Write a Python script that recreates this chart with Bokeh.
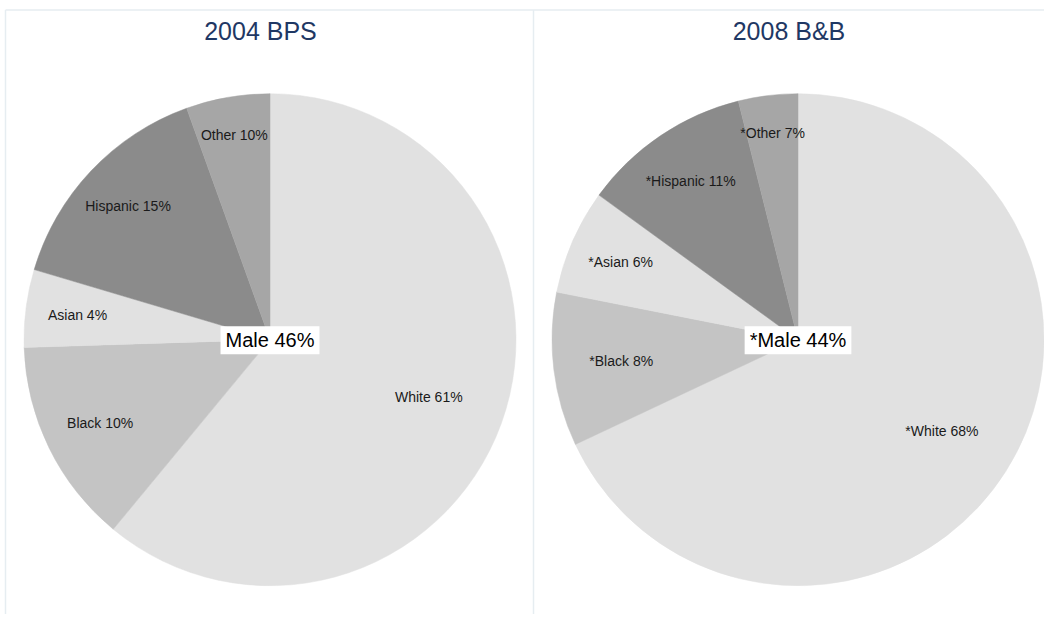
import math
from bokeh.plotting import figure
from bokeh.models import Range1d, Label
from bokeh.core.properties import value
from bokeh.embed import file_html
from bokeh.resources import INLINE

# ---- data (clockwise from 12 o'clock) ----
categories = ["White", "Black", "Asian", "Hispanic", "Other"]
bps2004_values = [61.0, 13.5, 5.1, 14.9, 5.5]
bb2008_values = [68.0, 10.1, 6.9, 11.1, 3.9]
bps2004_labels = ["White 61%", "Black 10%", "Asian 4%", "Hispanic 15%", "Other 10%"]
bb2008_labels = ["*White 68%", "*Black 8%", "*Asian 6%", "*Hispanic 11%", "*Other 7%"]
titles = ["2004 BPS", "2008 B&B"]
male_labels = ["Male 46%", "*Male 44%"]

# ---- styles / layout ----
colors = ["#e1e1e1", "#c4c4c4", "#e1e1e1", "#8b8b8b", "#a6a6a6"]
label_frac_left = [0.686, 0.769, 0.789, 0.794, 0.843]
label_frac_right = [0.693, 0.724, 0.787, 0.780, 0.845]
FONT = "Liberation Sans"

W, H = 1044, 614
TOP = 630  # data y = TOP - screen y
p = figure(width=W, height=H, output_backend="svg", toolbar_location=None,
           x_range=Range1d(0, W), y_range=Range1d(TOP - H, TOP), min_border=0)
p.axis.visible = False
p.grid.visible = False
p.outline_line_color = None
p.background_fill_color = "white"
p.border_fill_color = "white"

# panel borders
border_col = "#e6edf1"
p.segment(x0=[5, 5, 533], y0=[TOP - 9.5] * 3, x1=[W, 5, 533], y1=[TOP - 9.5, 0, 0],
          line_color=border_col, line_width=1.5)

R = 246
centers = [(269.5, TOP - 339.2), (797.5, TOP - 339.2)]
datasets = [bps2004_values, bb2008_values]
labelsets = [bps2004_labels, bb2008_labels]
fracsets = [label_frac_left, label_frac_right]
title_x = [260, 788.5]

for (cx, cy), vals, labs, fracs, ttl, tx, male in zip(centers, datasets, labelsets,
                                                       fracsets, titles, title_x, male_labels):
    total = sum(vals)
    cum = 0.0
    starts, ends, lx, ly = [], [], [], []
    for v, f in zip(vals, fracs):
        a0 = math.pi / 2 - 2 * math.pi * cum / total
        a1 = math.pi / 2 - 2 * math.pi * (cum + v) / total
        am = (a0 + a1) / 2
        starts.append(a0)
        ends.append(a1)
        lx.append(cx + f * R * math.cos(am))
        ly.append(cy + f * R * math.sin(am))
        cum += v
    p.wedge(x=[cx] * len(vals), y=[cy] * len(vals), radius=R,
            start_angle=starts, end_angle=ends, direction="clock",
            fill_color=colors, line_color=colors, line_width=0.5)
    p.text(x=lx, y=ly, text=labs, text_font=value(FONT), text_font_size="14px",
           text_color="#1a1a1a", text_align="center", text_baseline="middle")
    p.add_layout(Label(x=cx, y=cy - 0.5, text=male, text_font=FONT, text_font_size="20px",
                       text_color="#000000", text_align="center", text_baseline="middle",
                       background_fill_color="white", padding=(5, 3)))
    p.text(x=[tx], y=[TOP - 30.5], text=[ttl], text_font=value(FONT), text_font_size="25px",
           text_color="#1f3864", text_align="center", text_baseline="middle")

open("out.html", "w").write(file_html(p, INLINE))
